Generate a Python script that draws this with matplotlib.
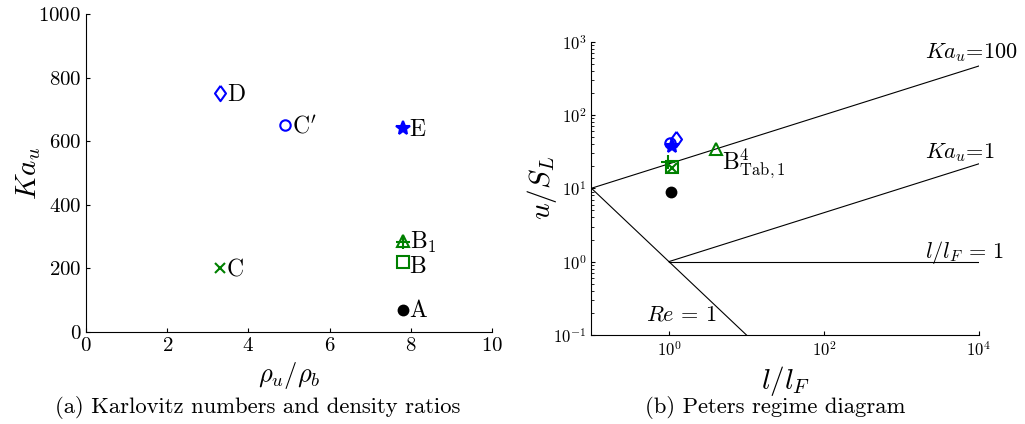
import numpy as np
import matplotlib
matplotlib.use("Agg")
import matplotlib.pyplot as plt
from matplotlib.ticker import NullLocator, LogLocator

plt.rcParams['font.family'] = ['cmr10', 'DejaVu Serif']
plt.rcParams['mathtext.fontset'] = 'cm'
plt.rcParams['axes.unicode_minus'] = False
plt.rcParams['axes.formatter.use_mathtext'] = True

# cases: name, marker, colour
cases = ["A", "B", "B1", "Btab", "C", "Cp", "D", "E"]
labels = {"A": "A", "B": "B", "B1": r"B$_1$", "Btab": "", "C": "C",
          "Cp": r"C$'$", "D": "D", "E": "E"}

# Karlovitz number vs density ratio
rho_ratio = [7.8, 7.8, 7.8, 7.8, 3.3, 4.9, 3.3, 7.8]
ka_u = [70, 220, 282, 287, 200, 650, 750, 640]

# Peters diagram positions
l_lF = [1.07, 1.1, 0.97, 4.0, 1.1, 1.02, 1.22, 1.1]
u_SL = [9.0, 19.3, 23.0, 34.0, 19.0, 41.0, 47.0, 38.0]

green = (0.0, 0.5, 0.0)
blue = (0.0, 0.0, 1.0)
diamond = [(0, 1), (0.72, 0), (0, -1), (-0.72, 0), (0, 1)]
styles = {
    "A": dict(marker="o", color="k", mfc="k", ms=7),
    "B": dict(marker="s", color=green, mfc="none", ms=8),
    "B1": dict(marker="+", color=green, mfc="none", ms=10),
    "Btab": dict(marker="^", color=green, mfc="none", ms=9),
    "C": dict(marker="x", color=green, mfc="none", ms=7),
    "Cp": dict(marker="o", color=blue, mfc="none", ms=7.5),
    "D": dict(marker=diamond, color=blue, mfc="none", ms=11),
    "E": dict(marker="*", color=blue, mfc=blue, ms=10),
}
# small vertical nudges so the B / B1 labels sit apart
label_dy = {"B1": 4, "B": -9}

fig = plt.figure(figsize=(10.25, 4.24), dpi=100)

# (a) Karlovitz numbers and density ratios
ax1 = fig.add_axes([0.084, 0.217, 0.396, 0.75])
for i, c in enumerate(cases):
    ax1.plot(rho_ratio[i], ka_u[i], linestyle="none", mew=1.5, **styles[c])
    if labels[c]:
        ax1.text(rho_ratio[i] + 0.17, ka_u[i] - 5 + label_dy.get(c, 0), labels[c],
                 fontsize=17, ha="left", va="center")
ax1.set_xlim(0, 10)
ax1.set_ylim(0, 1000)
ax1.set_xlabel(r"$\rho_u/\rho_b$", fontsize=19, labelpad=4)
ax1.set_ylabel(r"$Ka_u$", fontsize=21, labelpad=-3)

# (b) Peters regime diagram
ax2 = fig.add_axes([0.577, 0.21, 0.378, 0.692])
ax2.set_xscale("log")
ax2.set_yscale("log")
xl = [0.1, 1e4]
ax2.plot(xl, [10 * (x / 0.1) ** (1 / 3) for x in xl], color="k", lw=0.8)
ax2.plot([1, 1e4], [1, 1e4 ** (1 / 3)], color="k", lw=0.8)
ax2.plot([1, 1e4], [1, 1], color="k", lw=0.8)
ax2.plot([0.1, 10], [10, 0.1], color="k", lw=0.8)
for i, c in enumerate(cases):
    ax2.plot(l_lF[i], u_SL[i], linestyle="none", mew=1.5, **styles[c])
ax2.text(4.9, 17.8, r"B$^4_{\mathrm{Tab},1}$", fontsize=17, ha="left", va="baseline")
ax2.text(2000, 600, r"$Ka_u$=100", fontsize=16, ha="left", va="baseline")
ax2.text(2000, 25.5, r"$Ka_u$=1", fontsize=16, ha="left", va="baseline")
ax2.text(2000, 1.12, r"$l/l_F$ = 1", fontsize=16, ha="left", va="baseline")
ax2.text(1.43, 0.155, r"$Re$ = 1", fontsize=16, ha="center", va="baseline")
ax2.set_xlim(0.1, 1e4)
ax2.set_ylim(0.1, 1000)
ax2.set_xticks([1, 100, 1e4])
ax2.xaxis.set_minor_locator(NullLocator())
ax2.yaxis.set_major_locator(LogLocator(base=10, numticks=10))
ax2.set_xlabel(r"$l/l_F$", fontsize=21, labelpad=4)
ax2.set_ylabel(r"$u/S_L$", fontsize=21, labelpad=-4)

for ax in (ax1, ax2):
    ax.spines["top"].set_visible(False)
    ax.spines["right"].set_visible(False)
    ax.tick_params(direction="in", length=3, width=0.8)
    ax.tick_params(which="minor", direction="in", length=2, width=0.6)
ax1.tick_params(labelsize=15)
ax2.tick_params(labelsize=12)

fig.text(0.251, 0.038, "(a) Karlovitz numbers and density ratios", fontsize=16.3,
         ha="center", va="center")
fig.text(0.756, 0.038, "(b) Peters regime diagram", fontsize=16.3,
         ha="center", va="center")

fig.savefig("out.png", dpi=100)
